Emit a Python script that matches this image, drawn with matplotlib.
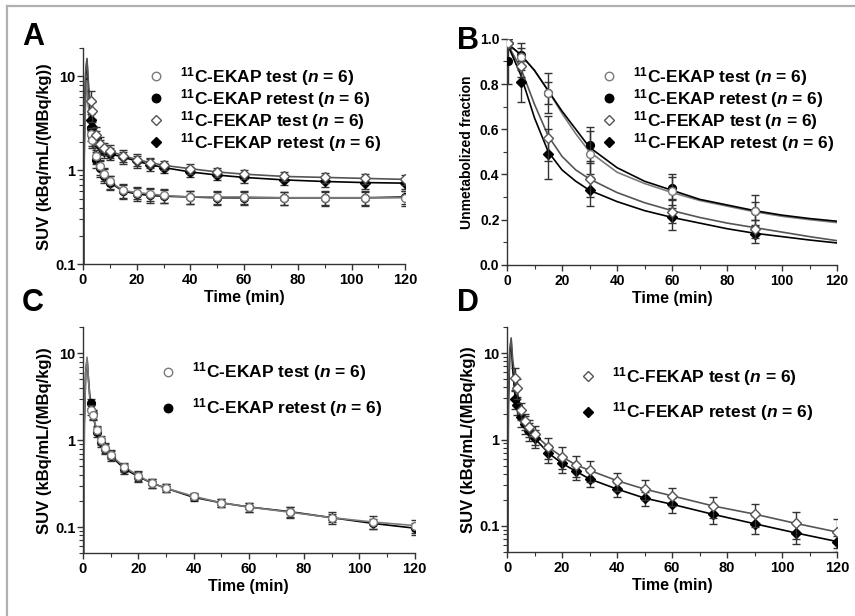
import numpy as np
import matplotlib.pyplot as plt
from matplotlib.lines import Line2D

plt.rcParams['font.family'] = ['Liberation Sans', 'DejaVu Sans']
plt.rcParams['font.weight'] = 'bold'
plt.rcParams['mathtext.fontset'] = 'custom'
plt.rcParams['mathtext.rm'] = 'Liberation Sans:bold'
plt.rcParams['mathtext.bf'] = 'Liberation Sans:bold'
plt.rcParams['mathtext.it'] = 'Liberation Sans:bold:italic'

# time points (min)
t_early = [0, 0.5, 1.0, 1.5, 2.0, 2.5]
t_suv = [3, 3.5, 5, 6.5, 8, 10, 15, 20, 25, 30, 40, 50, 60, 75, 90, 105, 120]
t_meta = [0.5, 5, 15, 30, 60, 90]

# panel A
a_ekap_test_early = [0.001, 1.5, 6, 9, 5, 3.2]
a_ekap_test = [2.45, 2.08, 1.41, 1.10, 0.92, 0.76, 0.61, 0.58, 0.56, 0.54, 0.52, 0.52, 0.52, 0.51, 0.51, 0.51, 0.51]
a_ekap_test_err = [0.4, 0.35, 0.25, 0.2, 0.15, 0.12, 0.1, 0.09, 0.09, 0.09, 0.08, 0.08, 0.08, 0.08, 0.09, 0.09, 0.09]
a_ekap_retest_early = [0.001, 2, 7, 9.5, 5.5, 3.5]
a_ekap_retest = [2.8, 2.2, 1.3, 1.05, 0.88, 0.74, 0.6, 0.56, 0.54, 0.53, 0.52, 0.51, 0.51, 0.51, 0.51, 0.51, 0.52]
a_ekap_retest_err = [0.5, 0.4, 0.25, 0.2, 0.15, 0.12, 0.1, 0.09, 0.09, 0.08, 0.08, 0.08, 0.08, 0.08, 0.08, 0.08, 0.08]
a_fekap_test_early = [0.001, 3, 11, 15.5, 9, 6]
a_fekap_test = [5.5, 4.3, 2.4, 1.92, 1.72, 1.6, 1.43, 1.30, 1.21, 1.13, 1.04, 0.96, 0.91, 0.86, 0.84, 0.82, 0.80]
a_fekap_test_err = [1.5, 1.0, 0.5, 0.35, 0.25, 0.25, 0.2, 0.18, 0.15, 0.13, 0.12, 0.11, 0.1, 0.1, 0.1, 0.1, 0.1]
a_fekap_retest_early = [0.001, 2.5, 10, 15, 7, 4.5]
a_fekap_retest = [3.4, 2.9, 2.2, 1.8, 1.6, 1.5, 1.38, 1.25, 1.15, 1.07, 0.96, 0.89, 0.84, 0.79, 0.76, 0.74, 0.73]
a_fekap_retest_err = [0.8, 0.6, 0.4, 0.3, 0.25, 0.22, 0.2, 0.18, 0.16, 0.14, 0.12, 0.11, 0.1, 0.1, 0.1, 0.1, 0.1]

# panel B (unmetabolized fraction)
b_ekap_test = [0.98, 0.92, 0.76, 0.49, 0.325, 0.24]
b_ekap_test_err = [0.02, 0.06, 0.09, 0.10, 0.075, 0.07]
b_ekap_retest = [0.90, 0.93, 0.76, 0.53, 0.34, 0.24]
b_ekap_retest_err = [0.10, 0.03, 0.05, 0.08, 0.05, 0.04]
b_fekap_test = [0.98, 0.88, 0.56, 0.38, 0.235, 0.16]
b_fekap_test_err = [0.02, 0.05, 0.10, 0.08, 0.05, 0.04]
b_fekap_retest = [0.98, 0.81, 0.49, 0.33, 0.21, 0.135]
b_fekap_retest_err = [0.02, 0.09, 0.11, 0.07, 0.055, 0.04]
# fitted curves
t_fit = [0, 5, 10, 15, 20, 25, 30, 40, 50, 60, 70, 80, 90, 100, 110, 120]
b_fit_ekap_test = [0.98, 0.93, 0.86, 0.77, 0.67, 0.58, 0.50, 0.41, 0.36, 0.32, 0.285, 0.26, 0.235, 0.215, 0.2, 0.187]
b_fit_ekap_retest = [0.98, 0.93, 0.86, 0.77, 0.68, 0.60, 0.52, 0.43, 0.37, 0.33, 0.29, 0.265, 0.24, 0.22, 0.205, 0.193]
b_fit_fekap_test = [0.98, 0.87, 0.71, 0.57, 0.48, 0.42, 0.38, 0.32, 0.275, 0.24, 0.21, 0.185, 0.165, 0.145, 0.125, 0.107]
b_fit_fekap_retest = [0.98, 0.84, 0.65, 0.50, 0.42, 0.37, 0.33, 0.28, 0.24, 0.21, 0.185, 0.16, 0.14, 0.125, 0.11, 0.097]

# panel C
c_ekap_test_early = [0.001, 1.5, 6, 9, 5, 3.0]
c_ekap_test = [2.25, 1.95, 1.32, 1.0, 0.82, 0.68, 0.49, 0.39, 0.32, 0.28, 0.226, 0.19, 0.17, 0.148, 0.128, 0.114, 0.104]
c_ekap_test_err = [0.3, 0.25, 0.15, 0.12, 0.1, 0.08, 0.06, 0.05, 0.04, 0.03, 0.02, 0.02, 0.02, 0.02, 0.02, 0.02, 0.018]
c_ekap_retest_early = [0.001, 1.5, 6, 8.5, 5, 3.2]
c_ekap_retest = [2.66, 2.0, 1.25, 0.95, 0.8, 0.66, 0.47, 0.38, 0.32, 0.28, 0.22, 0.19, 0.17, 0.15, 0.128, 0.11, 0.097]
c_ekap_retest_err = [0.3, 0.25, 0.15, 0.12, 0.1, 0.08, 0.06, 0.05, 0.04, 0.03, 0.02, 0.02, 0.02, 0.02, 0.015, 0.015, 0.015]

# panel D
d_fekap_test_early = [0.001, 3, 11, 15, 9, 6.5]
d_fekap_test = [5.2, 3.96, 2.17, 1.65, 1.38, 1.15, 0.82, 0.63, 0.51, 0.44, 0.334, 0.267, 0.223, 0.17, 0.137, 0.107, 0.085]
d_fekap_test_err = [1.5, 1.0, 0.5, 0.35, 0.3, 0.28, 0.22, 0.18, 0.14, 0.12, 0.08, 0.07, 0.055, 0.045, 0.04, 0.037, 0.035]
d_fekap_retest_early = [0.001, 2.5, 10, 14, 7, 4.5]
d_fekap_retest = [2.94, 2.5, 1.81, 1.5, 1.26, 1.04, 0.70, 0.53, 0.43, 0.35, 0.267, 0.21, 0.178, 0.136, 0.106, 0.083, 0.066]
d_fekap_retest_err = [0.7, 0.6, 0.4, 0.35, 0.3, 0.25, 0.17, 0.12, 0.09, 0.07, 0.05, 0.04, 0.035, 0.03, 0.025, 0.022, 0.01]

lbl_ekap_test = r'$^{11}$C-EKAP test ($\mathit{n}$ = 6)'
lbl_ekap_retest = r'$^{11}$C-EKAP retest ($\mathit{n}$ = 6)'
lbl_fekap_test = r'$^{11}$C-FEKAP test ($\mathit{n}$ = 6)'
lbl_fekap_retest = r'$^{11}$C-FEKAP retest ($\mathit{n}$ = 6)'

GRAY = '#7a7a7a'
styles = {
    'ekap_test': dict(marker='o', mfc='white', mec=GRAY, line=GRAY),
    'ekap_retest': dict(marker='o', mfc='black', mec='black', line='black'),
    'fekap_test': dict(marker='D', mfc='white', mec='#555555', line='#555555'),
    'fekap_retest': dict(marker='D', mfc='black', mec='black', line='black'),
}


def msize(key):
    return 5.6 if styles[key]['marker'] == 'o' else 4.8


def series(ax, x, y, err, key, line_x=None, line_y=None, z=3):
    st = styles[key]
    if line_x is not None:
        ax.plot(line_x, line_y, color=st['line'], lw=1.2, zorder=2)
    ax.errorbar(x, y, yerr=err, fmt=st['marker'], ms=msize(key), mfc=st['mfc'], mec=st['mec'],
                mew=1.0, ecolor='#333333', elinewidth=1.0, capsize=3, capthick=1.0, zorder=z)


def style_axes(ax, labelsize=10.5):
    for s in ['top', 'right']:
        ax.spines[s].set_visible(False)
    for s in ['left', 'bottom']:
        ax.spines[s].set_linewidth(1.0)
        ax.spines[s].set_color('#333333')
    ax.set_xlim(0, 120)
    ax.set_xticks(range(0, 121, 20))
    ax.set_xticks(range(10, 121, 20), minor=True)
    ax.tick_params(axis='both', which='major', length=4.5, width=1.0, labelsize=labelsize,
                   color='#333333', pad=2)
    ax.tick_params(axis='y', which='major', pad=1)
    ax.tick_params(axis='both', which='minor', length=3, width=0.8, color='#333333')
    ax.set_xlabel('Time (min)', fontsize=11.5, fontweight='bold', labelpad=2)
    for lab in ax.get_xticklabels() + ax.get_yticklabels():
        lab.set_fontweight('bold')


def legend(ax, keys, labels, anchor, spacing, textpad=0.9):
    handles = [Line2D([], [], ls='none', marker=styles[k]['marker'], ms=msize(k) + 0.5,
                      mfc=styles[k]['mfc'], mec=styles[k]['mec']) for k in keys]
    ax.legend(handles, labels, loc='upper left', bbox_to_anchor=anchor,
              bbox_transform=ax.figure.transFigure, frameon=False,
              fontsize=12.5, labelspacing=spacing, handletextpad=textpad,
              handlelength=1.0, borderpad=0, borderaxespad=0)


def fmt_log(v, pos):
    return {0.1: '0.1', 1: '1', 10: '10'}.get(round(v, 3), '')


fig = plt.figure(figsize=(8.55, 6.16), dpi=100)

# A
axA = fig.add_axes([0.097, 0.571, 0.377, 0.351])
series(axA, t_suv, a_ekap_retest, a_ekap_retest_err, 'ekap_retest', t_early + t_suv, a_ekap_retest_early + a_ekap_retest)
series(axA, t_suv, a_fekap_retest, a_fekap_retest_err, 'fekap_retest', t_early + t_suv, a_fekap_retest_early + a_fekap_retest)
series(axA, t_suv, a_ekap_test, a_ekap_test_err, 'ekap_test', t_early + t_suv, a_ekap_test_early + a_ekap_test, z=4)
series(axA, t_suv, a_fekap_test, a_fekap_test_err, 'fekap_test', t_early + t_suv, a_fekap_test_early + a_fekap_test, z=4)
axA.set_yscale('log')
axA.set_ylim(0.1, 20)
axA.yaxis.set_major_formatter(plt.FuncFormatter(fmt_log))
axA.set_ylabel('SUV (kBq/mL/(MBq/kg))', fontsize=12, fontweight='bold', labelpad=2)
style_axes(axA)
legend(axA, ['ekap_test', 'ekap_retest', 'fekap_test', 'fekap_retest'],
       [lbl_ekap_test, lbl_ekap_retest, lbl_fekap_test, lbl_fekap_retest], (0.172, 0.895), -0.05)

# B
axB = fig.add_axes([0.593, 0.570, 0.386, 0.367])
axB.plot(t_fit, b_fit_ekap_test, color=GRAY, lw=1.2, zorder=2)
axB.plot(t_fit, b_fit_ekap_retest, color='black', lw=1.2, zorder=2)
axB.plot(t_fit, b_fit_fekap_test, color='#555555', lw=1.2, zorder=2)
axB.plot(t_fit, b_fit_fekap_retest, color='black', lw=1.2, zorder=2)
series(axB, t_meta, b_ekap_retest, b_ekap_retest_err, 'ekap_retest')
series(axB, t_meta, b_fekap_retest, b_fekap_retest_err, 'fekap_retest')
series(axB, t_meta, b_ekap_test, b_ekap_test_err, 'ekap_test', z=4)
series(axB, t_meta, b_fekap_test, b_fekap_test_err, 'fekap_test', z=4)
axB.set_ylim(0, 1.0)
axB.set_yticks(np.arange(0, 1.01, 0.2))
axB.set_yticks(np.arange(0.1, 1.0, 0.2), minor=True)
axB.yaxis.set_major_formatter(plt.FormatStrFormatter('%.1f'))
axB.set_ylabel('Unmetabolized fraction', fontsize=10, fontweight='bold', labelpad=4)
style_axes(axB, labelsize=10)
legend(axB, ['ekap_test', 'ekap_retest', 'fekap_test', 'fekap_retest'],
       [lbl_ekap_test, lbl_ekap_retest, lbl_fekap_test, lbl_fekap_retest], (0.702, 0.895), -0.05)

# C
axC = fig.add_axes([0.097, 0.102, 0.388, 0.367])
series(axC, t_suv, c_ekap_retest, c_ekap_retest_err, 'ekap_retest', t_early + t_suv, c_ekap_retest_early + c_ekap_retest)
series(axC, t_suv, c_ekap_test, c_ekap_test_err, 'ekap_test', t_early + t_suv, c_ekap_test_early + c_ekap_test, z=4)
axC.set_yscale('log')
axC.set_ylim(0.05, 20)
axC.yaxis.set_major_formatter(plt.FuncFormatter(fmt_log))
axC.set_ylabel('SUV (kBq/mL/(MBq/kg))', fontsize=12, fontweight='bold', labelpad=2)
style_axes(axC)
legend(axC, ['ekap_test', 'ekap_retest'], [lbl_ekap_test, lbl_ekap_retest], (0.186, 0.415), 0.75)

# D
axD = fig.add_axes([0.593, 0.104, 0.386, 0.365])
series(axD, t_suv, d_fekap_retest, d_fekap_retest_err, 'fekap_retest', t_early + t_suv, d_fekap_retest_early + d_fekap_retest)
series(axD, t_suv, d_fekap_test, d_fekap_test_err, 'fekap_test', t_early + t_suv, d_fekap_test_early + d_fekap_test, z=4)
axD.set_yscale('log')
axD.set_ylim(0.05, 20)
axD.yaxis.set_major_formatter(plt.FuncFormatter(fmt_log))
axD.set_ylabel('SUV (kBq/mL/(MBq/kg))', fontsize=12, fontweight='bold', labelpad=2)
style_axes(axD)
legend(axD, ['fekap_test', 'fekap_retest'], [lbl_fekap_test, lbl_fekap_retest], (0.677, 0.408), 0.75)

for ax in (axA, axC, axD):
    ax.yaxis.set_minor_formatter(plt.NullFormatter())

# panel letters
for x, y, s in [(0.026, 0.965, 'A'), (0.534, 0.958, 'B'), (0.026, 0.532, 'C'), (0.534, 0.532, 'D')]:
    fig.text(x, y, s, fontsize=22, fontweight='bold', va='top', ha='left')

# frame
fig.add_artist(Line2D([0.008, 1.0], [0.990, 0.990], color='#b0b0b0', lw=1.6, transform=fig.transFigure))
fig.add_artist(Line2D([0.008, 0.008], [0.0, 0.990], color='#b0b0b0', lw=1.6, transform=fig.transFigure))

fig.savefig('out.png', dpi=100)
